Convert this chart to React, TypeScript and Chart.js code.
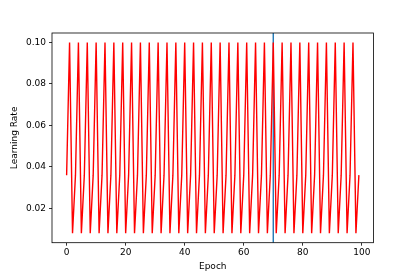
import React, { useEffect, useRef } from "react";
import { Chart, registerables } from "chart.js";

Chart.register(...registerables);

// one cycle of the schedule, repeated over epochs 0..99
const cycleValues = [0.036, 0.1, 0.008];
const epochs: number[] = Array.from({ length: 100 }, (_, i) => i);
const learningRates: number[] = epochs.map((e) => cycleValues[e % 3]);
const markerEpoch = 70;
const xTicks = [0, 20, 40, 60, 80, 100];
const yTicks = [0.02, 0.04, 0.06, 0.08, 0.1];
const xRange = [-4.95, 103.95];
const yRange = [0.0034, 0.1046];

const FONT = "'DejaVu Sans', sans-serif";

export default function App() {
  const ref = useRef<HTMLCanvasElement | null>(null);
  useEffect(() => {
    document.body.style.margin = "0";
    const canvas = ref.current!;
    const boxPlugin = {
      id: "box",
      afterDatasetsDraw(chart: any) {
        const { ctx, chartArea: a } = chart;
        ctx.save();
        ctx.strokeStyle = "#000";
        ctx.lineWidth = 0.8;
        ctx.strokeRect(a.left, a.top, a.right - a.left, a.bottom - a.top);
        ctx.restore();
      },
    };
    const chart = new Chart(canvas, {
      type: "line",
      data: {
        datasets: [
          {
            data: epochs.map((e, i) => ({ x: e, y: learningRates[i] })),
            borderColor: "#ff0000",
            borderWidth: 1.4,
            pointRadius: 0,
            tension: 0,
          },
          {
            data: [
              { x: markerEpoch, y: yRange[0] },
              { x: markerEpoch, y: yRange[1] },
            ],
            borderColor: "#1f77b4",
            borderWidth: 1.4,
            pointRadius: 0,
          },
        ],
      },
      options: {
        responsive: false,
        animation: false,
        layout: { padding: { left: 0, right: 41.5, top: 33, bottom: 0 } },
        plugins: { legend: { display: false }, tooltip: { enabled: false } },
        scales: {
          x: {
            type: "linear",
            min: xRange[0],
            max: xRange[1],
            afterBuildTicks: (s: any) => {
              s.ticks = xTicks.map((v) => ({ value: v }));
            },
            afterFit: (s: any) => {
              s.height = 34.3;
            },
            grid: { drawOnChartArea: false, drawTicks: true, tickLength: 3, color: "#000", lineWidth: 0.8 },
            border: { display: false },
            ticks: { color: "#000", padding: 2, font: { family: FONT, size: 9 }, maxRotation: 0, callback: (v: any) => String(v) },
            title: { display: true, text: "Epoch", color: "#000", font: { family: FONT, size: 9 }, padding: { top: 0, bottom: 4.5 } },
          },
          y: {
            type: "linear",
            min: yRange[0],
            max: yRange[1],
            afterBuildTicks: (s: any) => {
              s.ticks = yTicks.map((v) => ({ value: v }));
            },
            afterFit: (s: any) => {
              s.width = 52;
            },
            grid: { drawOnChartArea: false, drawTicks: true, tickLength: 3, color: "#000", lineWidth: 0.8 },
            border: { display: false },
            ticks: { color: "#000", padding: 3, font: { family: FONT, size: 9 }, callback: (v: any) => Number(v).toFixed(2) },
            title: { display: true, text: "Learning Rate", color: "#000", font: { family: FONT, size: 9 }, padding: { top: 9.5, bottom: 0 } },
          },
        },
      },
      plugins: [boxPlugin],
    });
    return () => chart.destroy();
  }, []);
  return <canvas ref={ref} width={415} height={277} style={{ display: "block" }} />;
}
